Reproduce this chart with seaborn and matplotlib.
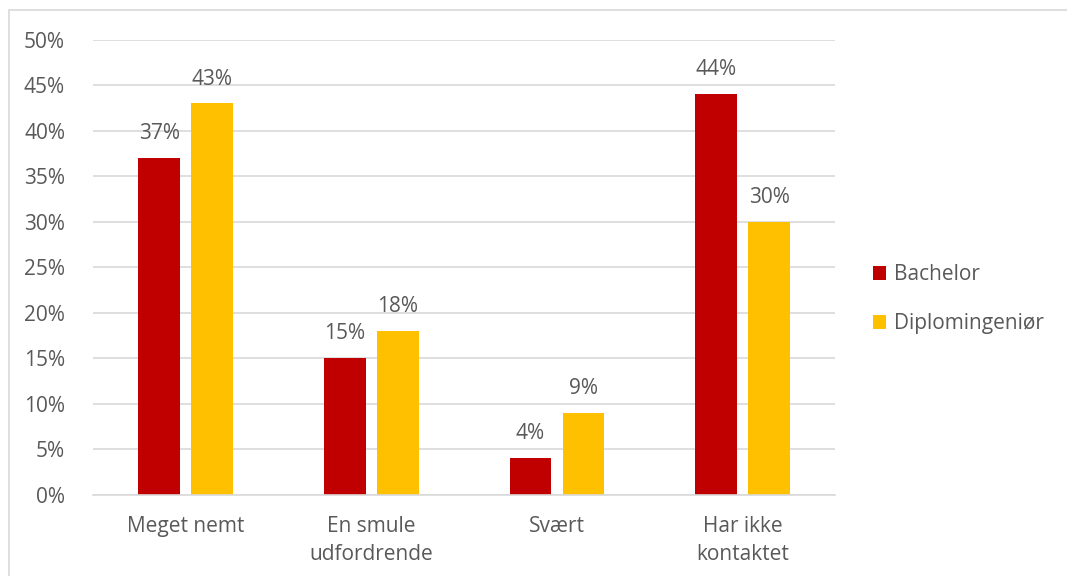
import pandas as pd
import matplotlib.pyplot as plt
import seaborn as sns
from matplotlib.ticker import FuncFormatter
from matplotlib.patches import Rectangle

categories = ["Meget nemt", "En smule\nudfordrende", "Svært", "Har ikke\nkontaktet"]
bachelor = [37, 15, 4, 44]
diplom = [43, 18, 9, 30]
series = ["Bachelor", "Diplomingeniør"]
colors = ["#C00000", "#FFC000"]

df = pd.DataFrame({
    "kategori": categories * 2,
    "andel": bachelor + diplom,
    "gruppe": [series[0]] * 4 + [series[1]] * 4,
})

sns.set_style("white")
plt.rcParams["font.family"] = ["Open Sans", "DejaVu Sans"]
txt = "#595959"

fig = plt.figure(figsize=(10.67, 5.76), dpi=100)
ax = fig.add_axes([0.087, 0.141, 0.696, 0.790])

sns.barplot(data=df, x="kategori", y="andel", hue="gruppe", palette=colors,
            saturation=1, width=0.571, gap=0.21, linewidth=0, ax=ax, legend=True)

for c in ax.containers:
    ax.bar_label(c, fmt="%.0f%%", padding=10, fontsize=15, color=txt)

ax.set_ylim(0, 50)
ax.set_yticks(range(0, 51, 5))
ax.yaxis.set_major_formatter(FuncFormatter(lambda v, p: f"{v:.0f}%"))
ax.yaxis.grid(True, color="#D9D9D9", linewidth=1.2)
ax.set_axisbelow(True)
for s in ["top", "right", "left"]:
    ax.spines[s].set_visible(False)
ax.spines["bottom"].set_color("#D9D9D9")
ax.spines["bottom"].set_linewidth(1.2)
ax.tick_params(axis="both", length=0, labelsize=15, labelcolor=txt)
ax.tick_params(axis="y", pad=20)
ax.tick_params(axis="x", pad=15)
for lab in ax.get_xticklabels():
    lab.set_linespacing(1.45)
ax.set_xlabel("")
ax.set_ylabel("")

leg = ax.legend(loc="center left", bbox_to_anchor=(1.025, 0.43), frameon=False,
                fontsize=15, handlelength=0.65, handleheight=0.65,
                handletextpad=0.35, labelspacing=1.35)
for t in leg.get_texts():
    t.set_color(txt)

fig.patches.append(Rectangle((9 / 1067, -0.01), 1.0, 1 - 10 / 576 + 0.01,
                             transform=fig.transFigure, fill=False,
                             edgecolor="#D9D9D9", linewidth=1.2))

fig.savefig("out.png", dpi=100, facecolor="white")
